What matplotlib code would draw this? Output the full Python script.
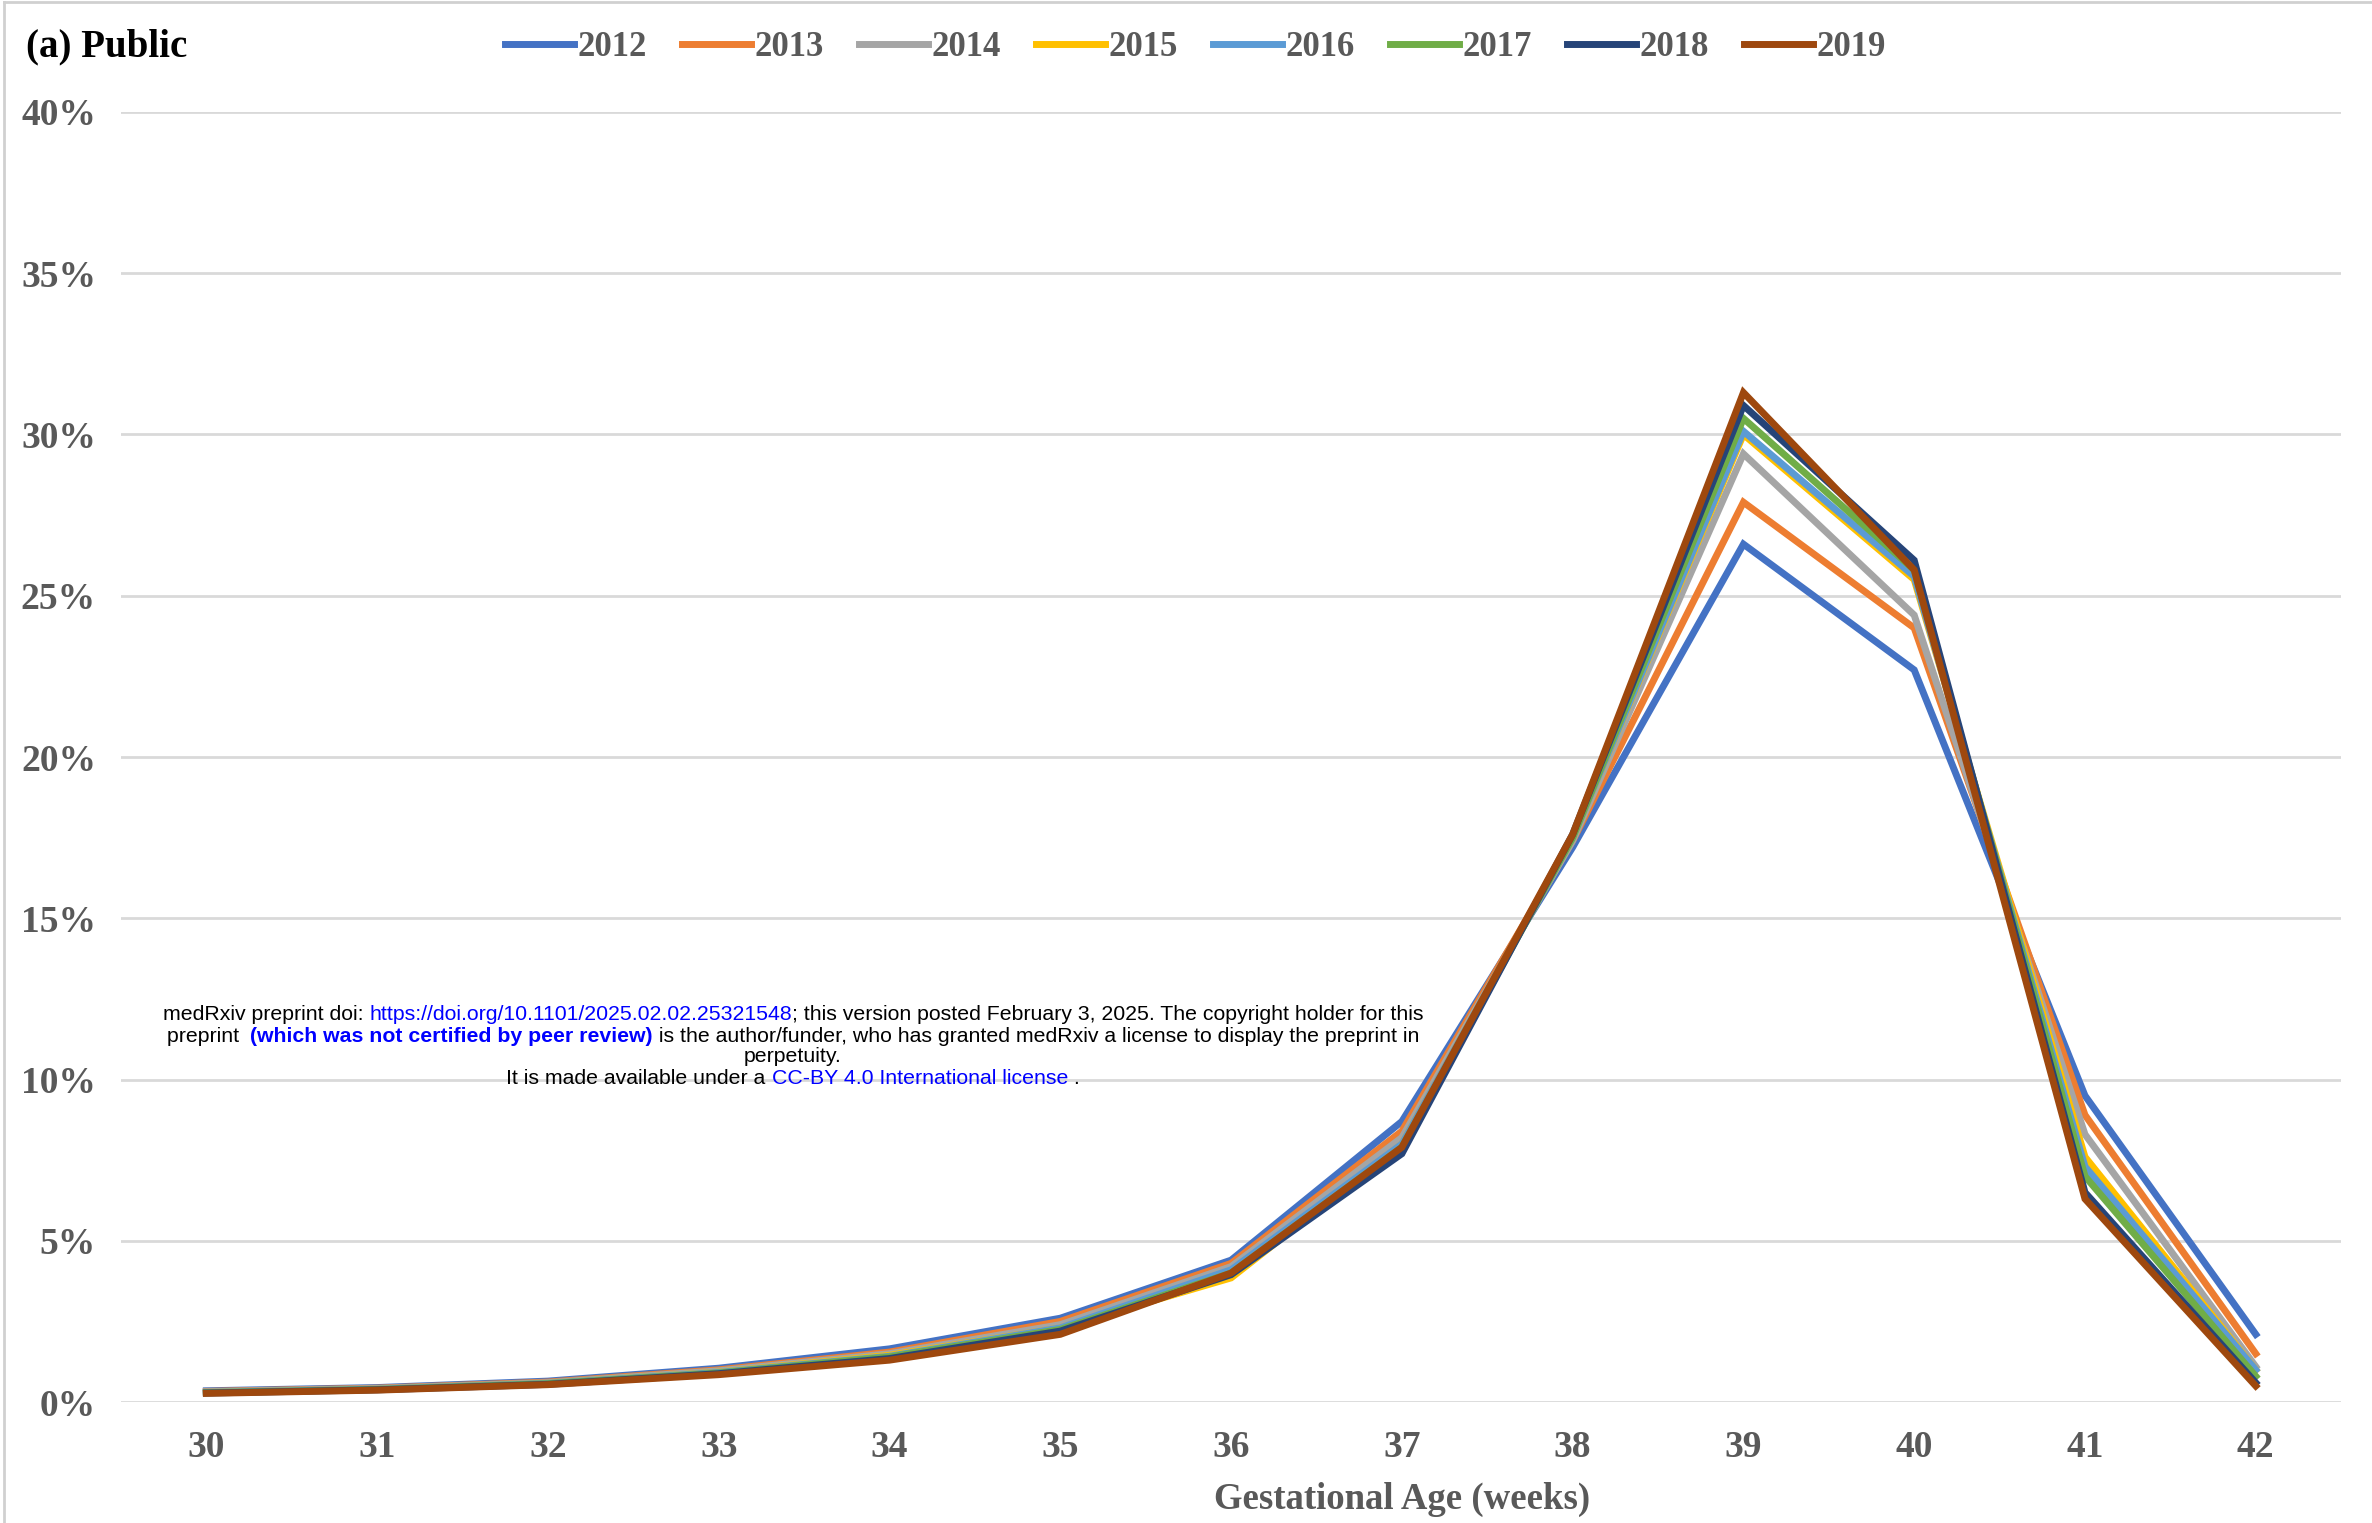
import matplotlib
matplotlib.use("Agg")
import matplotlib.pyplot as plt
from matplotlib.ticker import FuncFormatter, MultipleLocator

# gestational age (weeks) and share of births per year, in %
weeks = [30, 31, 32, 33, 34, 35, 36, 37, 38, 39, 40, 41, 42]
years = ["2012", "2013", "2014", "2015", "2016", "2017", "2018", "2019"]
y2012 = [0.35, 0.45, 0.65, 1.05, 1.65, 2.6, 4.4, 8.7, 17.2, 26.6, 22.7, 9.5, 2.1]
y2013 = [0.33, 0.43, 0.62, 1.0, 1.55, 2.5, 4.3, 8.4, 17.4, 27.9, 24.0, 8.9, 1.5]
y2014 = [0.32, 0.42, 0.6, 0.97, 1.5, 2.4, 4.2, 8.2, 17.4, 29.4, 24.4, 8.3, 1.1]
y2015 = [0.3, 0.4, 0.58, 0.93, 1.45, 2.3, 3.85, 8.0, 17.5, 30.0, 25.5, 7.6, 1.0]
y2016 = [0.3, 0.4, 0.58, 0.92, 1.42, 2.3, 4.1, 8.0, 17.5, 30.1, 25.6, 7.3, 1.0]
y2017 = [0.29, 0.39, 0.57, 0.9, 1.4, 2.25, 4.0, 7.9, 17.5, 30.5, 25.8, 7.0, 0.8]
y2018 = [0.28, 0.38, 0.55, 0.88, 1.35, 2.2, 3.95, 7.7, 17.6, 30.9, 26.1, 6.5, 0.6]
y2019 = [0.27, 0.37, 0.54, 0.85, 1.3, 2.1, 4.0, 7.9, 17.6, 31.3, 25.8, 6.3, 0.5]
series = [y2012, y2013, y2014, y2015, y2016, y2017, y2018, y2019]
colors = ["#4472C4", "#ED7D31", "#A5A5A5", "#FFC000",
          "#5B9BD5", "#70AD47", "#264478", "#9E480E"]

serif = ["Liberation Serif", "DejaVu Serif"]
sans = ["Liberation Sans", "DejaVu Sans"]
grey = "#595959"

fig = plt.figure(figsize=(23.72, 15.23), dpi=100)
ax = fig.add_axes([0.051, 0.0794, 0.936, 0.8471])

for name, vals, c in zip(years, series, colors):
    ax.plot(weeks, vals, color=c, lw=5, label=name, solid_joinstyle="miter")

ax.set_xlim(29.5, 42.5)
ax.set_ylim(0, 40)
ax.yaxis.set_major_locator(MultipleLocator(5))
ax.yaxis.set_major_formatter(FuncFormatter(lambda v, p: "%d%%" % v))
ax.set_xticks(weeks)
ax.grid(axis="y", color="#d9d9d9", lw=2)
ax.set_axisbelow(True)
for s in ax.spines.values():
    s.set_visible(False)
ax.tick_params(length=0, labelsize=27, labelcolor=grey)
ax.tick_params(axis="x", pad=20)
ax.tick_params(axis="y", pad=18)
for lab in ax.get_xticklabels() + ax.get_yticklabels():
    lab.set_family(serif)
    lab.set_fontweight("bold")

ax.set_xlabel("Gestational Age (weeks)", fontsize=26.5, color=grey,
              family=serif, fontweight="bold")
ax.xaxis.set_label_coords(0.577, -0.062)

fig.text(0.011, 0.969, "(a) Public", fontsize=28, family=serif,
         fontweight="bold", va="center", ha="left")

fig.legend(loc="center", bbox_to_anchor=(0.504, 0.969), ncol=8, frameon=False,
           prop={"family": serif, "weight": "bold", "size": 25},
           handlelength=2.0, handletextpad=0.1, columnspacing=1.0,
           labelcolor=grey)

# chart border (top and left visible in the reference)
fig.add_artist(plt.Line2D([0.0015, 0.0015], [0, 0.999], color="#d0d0d0", lw=2,
                          transform=fig.transFigure))
fig.add_artist(plt.Line2D([0.0015, 1], [0.9985, 0.9985], color="#d0d0d0", lw=2,
                          transform=fig.transFigure))

# medRxiv stamp overlaid on the chart
stamp = [
    [("medRxiv preprint doi: ", "black", "normal"),
     ("https://doi.org/10.1101/2025.02.02.25321548", "blue", "normal"),
     ("; this version posted February 3, 2025. The copyright holder for this", "black", "normal")],
    [("preprint  ", "black", "normal"),
     ("(which was not certified by peer review)", "blue", "bold"),
     (" is the author/funder, who has granted medRxiv a license to display the preprint in", "black", "normal")],
    [("perpetuity.", "black", "normal")],
    [("It is made available under a ", "black", "normal"),
     ("CC-BY 4.0 International license", "blue", "normal"),
     (" .", "black", "normal")],
]
stamp_y = [1014, 1036, 1057, 1078]
cx = 793
fs = 15.3
renderer = fig.canvas.get_renderer()
H = fig.get_figheight() * fig.dpi
for parts, ypix in zip(stamp, stamp_y):
    widths = []
    for txt, col, wt in parts:
        t = fig.text(0, 0, txt, fontsize=fs, family=sans, fontweight=wt)
        widths.append(t.get_window_extent(renderer).width)
        t.remove()
    x = cx - sum(widths) / 2
    for (txt, col, wt), w in zip(parts, widths):
        fig.text(x, H - ypix, txt, fontsize=fs, family=sans, fontweight=wt,
                 color=col, va="center", ha="left", transform=None)
        x += w

fig.savefig("out.png", dpi=100)
